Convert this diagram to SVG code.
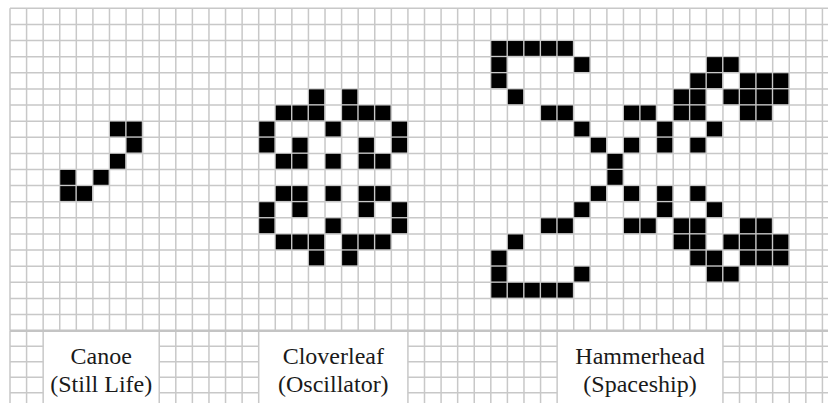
<svg xmlns="http://www.w3.org/2000/svg" width="828" height="403" viewBox="0 0 828 403">
<style>
.g{fill:none;stroke:#c8c8c8;stroke-width:1.5}
.sep{fill:none;stroke:#c4c4c4;stroke-width:2.6}
.c{fill:#000}
.t{font-size:24px;fill:#1a1a1a;text-anchor:middle}
</style>
<rect width="828" height="403" fill="#fff"/>
<g id="grid">
<path class="g" d="M10 8.3V330.7M26.58 8.3V330.7M43.16 8.3V330.7M59.74 8.3V330.7M76.32 8.3V330.7M92.9 8.3V330.7M109.48 8.3V330.7M126.06 8.3V330.7M142.64 8.3V330.7M159.22 8.3V330.7M175.8 8.3V330.7M192.38 8.3V330.7M208.96 8.3V330.7M225.54 8.3V330.7M242.12 8.3V330.7M258.7 8.3V330.7M275.28 8.3V330.7M291.86 8.3V330.7M308.44 8.3V330.7M325.02 8.3V330.7M341.6 8.3V330.7M358.18 8.3V330.7M374.76 8.3V330.7M391.34 8.3V330.7M407.92 8.3V330.7M424.5 8.3V330.7M441.08 8.3V330.7M457.66 8.3V330.7M474.24 8.3V330.7M490.82 8.3V330.7M507.4 8.3V330.7M523.98 8.3V330.7M540.56 8.3V330.7M557.14 8.3V330.7M573.72 8.3V330.7M590.3 8.3V330.7M606.88 8.3V330.7M623.46 8.3V330.7M640.04 8.3V330.7M656.62 8.3V330.7M673.2 8.3V330.7M689.78 8.3V330.7M706.36 8.3V330.7M722.94 8.3V330.7M739.52 8.3V330.7M756.1 8.3V330.7M772.68 8.3V330.7M789.26 8.3V330.7M805.84 8.3V330.7M822.42 8.3V330.7"/>
<path class="g" d="M10 8.3H828M10 24.42H828M10 40.54H828M10 56.66H828M10 72.78H828M10 88.9H828M10 105.02H828M10 121.14H828M10 137.26H828M10 153.38H828M10 169.5H828M10 185.62H828M10 201.74H828M10 217.86H828M10 233.98H828M10 250.1H828M10 266.22H828M10 282.34H828M10 298.46H828M10 314.58H828"/>
<path class="g" d="M10 330.7V403M26.58 330.7V403M43.16 330.7V403M159.22 330.7V403M175.8 330.7V403M192.38 330.7V403M208.96 330.7V403M225.54 330.7V403M242.12 330.7V403M258.7 330.7V403M407.92 330.7V403M424.5 330.7V403M441.08 330.7V403M457.66 330.7V403M474.24 330.7V403M490.82 330.7V403M507.4 330.7V403M523.98 330.7V403M540.56 330.7V403M557.14 330.7V403M722.94 330.7V403M739.52 330.7V403M756.1 330.7V403M772.68 330.7V403M789.26 330.7V403M805.84 330.7V403M822.42 330.7V403"/>
<path class="g" d="M10 346.2H43.16M159.22 346.2H258.7M407.92 346.2H557.14M722.94 346.2H828M10 361.7H43.16M159.22 361.7H258.7M407.92 361.7H557.14M722.94 361.7H828M10 377.2H43.16M159.22 377.2H258.7M407.92 377.2H557.14M722.94 377.2H828M10 392.7H43.16M159.22 392.7H258.7M407.92 392.7H557.14M722.94 392.7H828"/>
<path class="sep" d="M10 330.7H828"/>
</g>
<g id="canoe" transform="translate(10,8.3) scale(16.58,16.12)">
<rect class="c" x="6.03" y="7.03" width="0.92" height="0.92"/><rect class="c" x="7.03" y="7.03" width="0.92" height="0.92"/>
<rect class="c" x="7.03" y="8.03" width="0.92" height="0.92"/>
<rect class="c" x="6.03" y="9.03" width="0.92" height="0.92"/>
<rect class="c" x="3.03" y="10.03" width="0.92" height="0.92"/><rect class="c" x="5.03" y="10.03" width="0.92" height="0.92"/>
<rect class="c" x="3.03" y="11.03" width="0.92" height="0.92"/><rect class="c" x="4.03" y="11.03" width="0.92" height="0.92"/>
</g>
<g id="cloverleaf" transform="translate(10,8.3) scale(16.58,16.12)">
<rect class="c" x="18.03" y="5.03" width="0.92" height="0.92"/><rect class="c" x="20.03" y="5.03" width="0.92" height="0.92"/>
<rect class="c" x="16.03" y="6.03" width="0.92" height="0.92"/><rect class="c" x="17.03" y="6.03" width="0.92" height="0.92"/><rect class="c" x="18.03" y="6.03" width="0.92" height="0.92"/><rect class="c" x="20.03" y="6.03" width="0.92" height="0.92"/><rect class="c" x="21.03" y="6.03" width="0.92" height="0.92"/><rect class="c" x="22.03" y="6.03" width="0.92" height="0.92"/>
<rect class="c" x="15.03" y="7.03" width="0.92" height="0.92"/><rect class="c" x="19.03" y="7.03" width="0.92" height="0.92"/><rect class="c" x="23.03" y="7.03" width="0.92" height="0.92"/>
<rect class="c" x="15.03" y="8.03" width="0.92" height="0.92"/><rect class="c" x="17.03" y="8.03" width="0.92" height="0.92"/><rect class="c" x="21.03" y="8.03" width="0.92" height="0.92"/><rect class="c" x="23.03" y="8.03" width="0.92" height="0.92"/>
<rect class="c" x="16.03" y="9.03" width="0.92" height="0.92"/><rect class="c" x="17.03" y="9.03" width="0.92" height="0.92"/><rect class="c" x="19.03" y="9.03" width="0.92" height="0.92"/><rect class="c" x="21.03" y="9.03" width="0.92" height="0.92"/><rect class="c" x="22.03" y="9.03" width="0.92" height="0.92"/>
<rect class="c" x="16.03" y="11.03" width="0.92" height="0.92"/><rect class="c" x="17.03" y="11.03" width="0.92" height="0.92"/><rect class="c" x="19.03" y="11.03" width="0.92" height="0.92"/><rect class="c" x="21.03" y="11.03" width="0.92" height="0.92"/><rect class="c" x="22.03" y="11.03" width="0.92" height="0.92"/>
<rect class="c" x="15.03" y="12.03" width="0.92" height="0.92"/><rect class="c" x="17.03" y="12.03" width="0.92" height="0.92"/><rect class="c" x="21.03" y="12.03" width="0.92" height="0.92"/><rect class="c" x="23.03" y="12.03" width="0.92" height="0.92"/>
<rect class="c" x="15.03" y="13.03" width="0.92" height="0.92"/><rect class="c" x="19.03" y="13.03" width="0.92" height="0.92"/><rect class="c" x="23.03" y="13.03" width="0.92" height="0.92"/>
<rect class="c" x="16.03" y="14.03" width="0.92" height="0.92"/><rect class="c" x="17.03" y="14.03" width="0.92" height="0.92"/><rect class="c" x="18.03" y="14.03" width="0.92" height="0.92"/><rect class="c" x="20.03" y="14.03" width="0.92" height="0.92"/><rect class="c" x="21.03" y="14.03" width="0.92" height="0.92"/><rect class="c" x="22.03" y="14.03" width="0.92" height="0.92"/>
<rect class="c" x="18.03" y="15.03" width="0.92" height="0.92"/><rect class="c" x="20.03" y="15.03" width="0.92" height="0.92"/>
</g>
<g id="hammerhead" transform="translate(10,8.3) scale(16.58,16.12)">
<rect class="c" x="29.03" y="2.03" width="0.92" height="0.92"/><rect class="c" x="30.03" y="2.03" width="0.92" height="0.92"/><rect class="c" x="31.03" y="2.03" width="0.92" height="0.92"/><rect class="c" x="32.03" y="2.03" width="0.92" height="0.92"/><rect class="c" x="33.03" y="2.03" width="0.92" height="0.92"/>
<rect class="c" x="29.03" y="3.03" width="0.92" height="0.92"/><rect class="c" x="34.03" y="3.03" width="0.92" height="0.92"/><rect class="c" x="42.03" y="3.03" width="0.92" height="0.92"/><rect class="c" x="43.03" y="3.03" width="0.92" height="0.92"/>
<rect class="c" x="29.03" y="4.03" width="0.92" height="0.92"/><rect class="c" x="41.03" y="4.03" width="0.92" height="0.92"/><rect class="c" x="42.03" y="4.03" width="0.92" height="0.92"/><rect class="c" x="44.03" y="4.03" width="0.92" height="0.92"/><rect class="c" x="45.03" y="4.03" width="0.92" height="0.92"/><rect class="c" x="46.03" y="4.03" width="0.92" height="0.92"/>
<rect class="c" x="30.03" y="5.03" width="0.92" height="0.92"/><rect class="c" x="40.03" y="5.03" width="0.92" height="0.92"/><rect class="c" x="41.03" y="5.03" width="0.92" height="0.92"/><rect class="c" x="43.03" y="5.03" width="0.92" height="0.92"/><rect class="c" x="44.03" y="5.03" width="0.92" height="0.92"/><rect class="c" x="45.03" y="5.03" width="0.92" height="0.92"/><rect class="c" x="46.03" y="5.03" width="0.92" height="0.92"/>
<rect class="c" x="32.03" y="6.03" width="0.92" height="0.92"/><rect class="c" x="33.03" y="6.03" width="0.92" height="0.92"/><rect class="c" x="37.03" y="6.03" width="0.92" height="0.92"/><rect class="c" x="38.03" y="6.03" width="0.92" height="0.92"/><rect class="c" x="40.03" y="6.03" width="0.92" height="0.92"/><rect class="c" x="41.03" y="6.03" width="0.92" height="0.92"/><rect class="c" x="44.03" y="6.03" width="0.92" height="0.92"/><rect class="c" x="45.03" y="6.03" width="0.92" height="0.92"/>
<rect class="c" x="34.03" y="7.03" width="0.92" height="0.92"/><rect class="c" x="39.03" y="7.03" width="0.92" height="0.92"/><rect class="c" x="42.03" y="7.03" width="0.92" height="0.92"/>
<rect class="c" x="35.03" y="8.03" width="0.92" height="0.92"/><rect class="c" x="37.03" y="8.03" width="0.92" height="0.92"/><rect class="c" x="39.03" y="8.03" width="0.92" height="0.92"/><rect class="c" x="41.03" y="8.03" width="0.92" height="0.92"/>
<rect class="c" x="36.03" y="9.03" width="0.92" height="0.92"/>
<rect class="c" x="36.03" y="10.03" width="0.92" height="0.92"/>
<rect class="c" x="35.03" y="11.03" width="0.92" height="0.92"/><rect class="c" x="37.03" y="11.03" width="0.92" height="0.92"/><rect class="c" x="39.03" y="11.03" width="0.92" height="0.92"/><rect class="c" x="41.03" y="11.03" width="0.92" height="0.92"/>
<rect class="c" x="34.03" y="12.03" width="0.92" height="0.92"/><rect class="c" x="39.03" y="12.03" width="0.92" height="0.92"/><rect class="c" x="42.03" y="12.03" width="0.92" height="0.92"/>
<rect class="c" x="32.03" y="13.03" width="0.92" height="0.92"/><rect class="c" x="33.03" y="13.03" width="0.92" height="0.92"/><rect class="c" x="37.03" y="13.03" width="0.92" height="0.92"/><rect class="c" x="38.03" y="13.03" width="0.92" height="0.92"/><rect class="c" x="40.03" y="13.03" width="0.92" height="0.92"/><rect class="c" x="41.03" y="13.03" width="0.92" height="0.92"/><rect class="c" x="44.03" y="13.03" width="0.92" height="0.92"/><rect class="c" x="45.03" y="13.03" width="0.92" height="0.92"/>
<rect class="c" x="30.03" y="14.03" width="0.92" height="0.92"/><rect class="c" x="40.03" y="14.03" width="0.92" height="0.92"/><rect class="c" x="41.03" y="14.03" width="0.92" height="0.92"/><rect class="c" x="43.03" y="14.03" width="0.92" height="0.92"/><rect class="c" x="44.03" y="14.03" width="0.92" height="0.92"/><rect class="c" x="45.03" y="14.03" width="0.92" height="0.92"/><rect class="c" x="46.03" y="14.03" width="0.92" height="0.92"/>
<rect class="c" x="29.03" y="15.03" width="0.92" height="0.92"/><rect class="c" x="41.03" y="15.03" width="0.92" height="0.92"/><rect class="c" x="42.03" y="15.03" width="0.92" height="0.92"/><rect class="c" x="44.03" y="15.03" width="0.92" height="0.92"/><rect class="c" x="45.03" y="15.03" width="0.92" height="0.92"/><rect class="c" x="46.03" y="15.03" width="0.92" height="0.92"/>
<rect class="c" x="29.03" y="16.03" width="0.92" height="0.92"/><rect class="c" x="34.03" y="16.03" width="0.92" height="0.92"/><rect class="c" x="42.03" y="16.03" width="0.92" height="0.92"/><rect class="c" x="43.03" y="16.03" width="0.92" height="0.92"/>
<rect class="c" x="29.03" y="17.03" width="0.92" height="0.92"/><rect class="c" x="30.03" y="17.03" width="0.92" height="0.92"/><rect class="c" x="31.03" y="17.03" width="0.92" height="0.92"/><rect class="c" x="32.03" y="17.03" width="0.92" height="0.92"/><rect class="c" x="33.03" y="17.03" width="0.92" height="0.92"/>
</g>
<g id="label-canoe" font-family="Liberation Serif, DejaVu Serif, serif">
<text class="t" x="101.2" y="363.5">Canoe</text>
<text class="t" x="101.2" y="392">(Still Life)</text>
</g>
<g id="label-cloverleaf" font-family="Liberation Serif, DejaVu Serif, serif">
<text class="t" x="333.3" y="363.5">Cloverleaf</text>
<text class="t" x="333.3" y="392">(Oscillator)</text>
</g>
<g id="label-hammerhead" font-family="Liberation Serif, DejaVu Serif, serif">
<text class="t" x="640" y="363.5">Hammerhead</text>
<text class="t" x="640" y="392">(Spaceship)</text>
</g>
</svg>
